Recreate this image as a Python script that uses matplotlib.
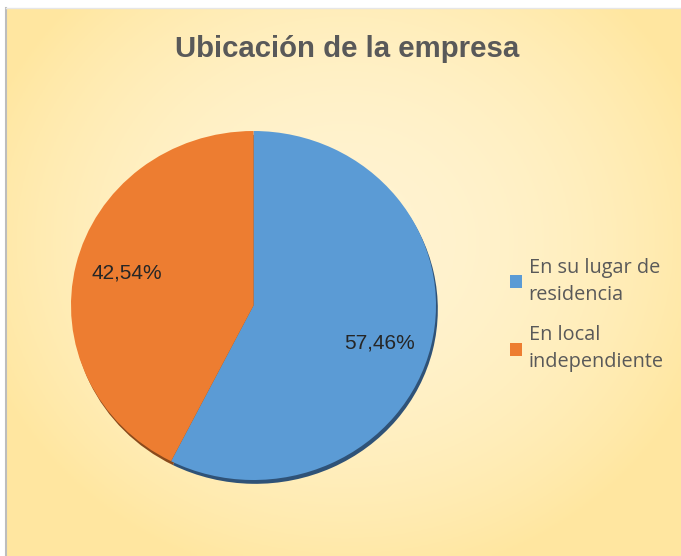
import numpy as np
import matplotlib
matplotlib.use("Agg")
import matplotlib.pyplot as plt

categories = ["En su lugar de\nresidencia", "En local\nindependiente"]
values = [57.46, 42.54]
colors = ["#5B9BD5", "#ED7D31"]
title = "Ubicación de la empresa"

W, H = 681, 556
fig = plt.figure(figsize=(W / 100, H / 100), dpi=100, facecolor="white")

# background panel with soft radial gradient
bg = fig.add_axes([0, 0, 1, 1])
bg.set_xlim(0, W)
bg.set_ylim(0, H)
bg.axis("off")
yy, xx = np.mgrid[0:200, 0:240]
cx, cy = 120, 85
d = np.sqrt(((xx - cx) / 135) ** 2 + ((yy - cy) / 125) ** 2)
d = np.clip(d, 0, 1)
c_in = np.array([1.0, 0.955, 0.82])
c_out = np.array([1.0, 0.905, 0.63])
img = c_in[None, None, :] * (1 - d[..., None] ** 2) + c_out[None, None, :] * (d[..., None] ** 2)
bg.imshow(img, extent=[6, W, 0, H - 8], origin="upper", aspect="auto", zorder=0)
bg.plot([6, 6], [0, H - 8], color="#BDBDBD", lw=1.5, zorder=1)
bg.plot([6, W], [H - 8, H - 8], color="#E6E6E6", lw=1, zorder=1)

bg.text(347, H - 49, title, ha="center", va="center", fontsize=21.2, fontweight="bold",
        color="#595959", family=["Liberation Sans", "DejaVu Sans"])

# pie axes (slightly elliptical like the reference)
left, right, top, bottom = 71, 436, 131, 480
pa = fig.add_axes([left / W, 1 - bottom / H, (right - left) / W, (bottom - top) / H])
# shadow
pa.pie(values, colors=["#2F5277", "#8A4A1C"], startangle=90, counterclock=False,
       radius=1.0, center=(0.01, -0.022), wedgeprops=dict(linewidth=0))
wedges, texts, autotexts = pa.pie(
    values, colors=colors, startangle=90, counterclock=False, radius=1.0,
    autopct=lambda p: f"{p:.2f}%".replace(".", ","), pctdistance=0.72,
    wedgeprops=dict(linewidth=0),
    textprops=dict(fontsize=15, color="#262626", family="Liberation Sans"))
label_pos = [(0.688, -0.215), (-0.693, 0.186)]
for t, p in zip(autotexts, label_pos):
    t.set_position(p)
pa.set_aspect("auto")
pa.set_xlim(-1.0, 1.0)
pa.set_ylim(-1.0, 1.0)
pa.axis("off")

leg = fig.legend(wedges, categories, loc="upper left", bbox_to_anchor=(492 / W, 1 - 240 / H),
                 frameon=False, handlelength=0.6, handleheight=0.6, handletextpad=0.35,
                 labelspacing=1.05, prop=dict(family="Open Sans", size=14.3))
for t in leg.get_texts():
    t.set_color("#595959")
    t.set_linespacing(1.45)

fig.savefig("out.png", dpi=100, facecolor="white")
